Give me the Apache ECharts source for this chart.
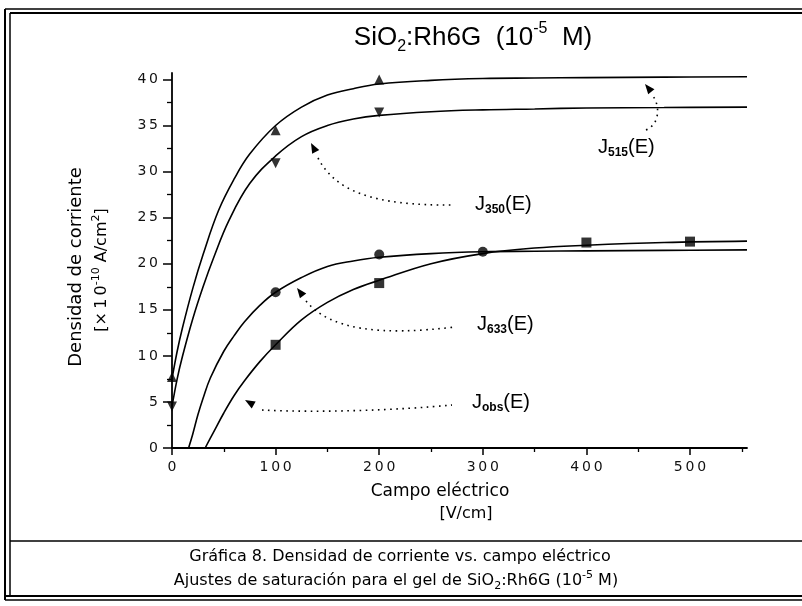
<!DOCTYPE html>
<html>
<head>
<meta charset="utf-8">
<script src="https://cdn.jsdelivr.net/npm/echarts@6/dist/echarts.min.js"></script>
<style>
  html, body { margin: 0; background: #fff; }
  #chart { width: 802px; height: 606px; }
</style>
</head>
<body>
<div id="chart"></div>
<script>
// ticks
var xTicks = [0, 100, 200, 300, 400, 500];
var xMinorTicks = [50, 150, 250, 350, 450, 550];
var yTicks = [0, 5, 10, 15, 20, 25, 30, 35, 40];
var yMinorTicks = [2.5, 7.5, 12.5, 17.5, 22.5, 27.5, 32.5, 37.5];

// puntos medidos [campo, densidad]
var j515Pts = [[0, 7.7], [100, 34.5], [200, 40.0]];
var j350Pts = [[0, 4.5], [100, 30.9], [200, 36.4]];
var j633Pts = [[100, 16.9], [200, 21.0], [300, 21.3]];
var jobsPts = [[100, 11.2], [200, 17.9], [400, 22.3], [500, 22.4]];

// curvas de ajuste
var j515Fit = [[0, 7.5], [5, 10.5], [10, 13.0], [20, 17.3], [30, 21.0], [45, 25.8], [60, 29.2],
  [75, 31.9], [100, 35.0], [125, 37.0], [150, 38.3], [175, 39.0], [200, 39.5], [250, 39.9],
  [300, 40.1], [350, 40.15], [400, 40.2], [475, 40.25], [555, 40.3]];
var j350Fit = [[0, 4.5], [5, 7.5], [10, 9.9], [20, 14.0], [30, 17.5], [40, 20.6], [55, 24.7],
  [75, 28.7], [100, 31.7], [125, 33.8], [150, 35.0], [175, 35.7], [200, 36.1], [250, 36.5],
  [300, 36.7], [350, 36.8], [400, 36.9], [475, 36.95], [555, 37.0]];
var j633Fit = [[16, 0], [20, 1.5], [25, 3.6], [30, 5.4], [37, 7.6], [50, 10.5], [60, 12.2],
  [70, 13.7], [85, 15.5], [100, 16.9], [125, 18.5], [150, 19.7], [175, 20.3], [200, 20.7],
  [250, 21.1], [300, 21.3], [350, 21.35], [400, 21.4], [475, 21.45], [555, 21.5]];
var jobsFit = [[32, 0], [40, 1.7], [50, 3.8], [60, 5.7], [70, 7.3], [85, 9.4], [100, 11.2],
  [125, 13.9], [150, 15.8], [175, 17.2], [200, 18.2], [250, 20.0], [300, 21.1], [350, 21.7],
  [400, 22.0], [475, 22.3], [555, 22.45]];

var FONT = 'DejaVu Sans';
var spaced = function (v) { return String(v).split('').join('\u2009'); };

function fitSeries(data) {
  return {
    type: 'line', data: data, smooth: 0.4, showSymbol: false, silent: true,
    lineStyle: { color: '#000', width: 1.6 }, z: 2
  };
}
function pointSeries(data, symbol, rotate) {
  return {
    type: 'scatter', data: data, symbol: symbol, symbolSize: 10, symbolRotate: rotate || 0,
    itemStyle: { color: '#000' }, z: 3
  };
}

function arrowHead(tip, from) {
  var dx = tip[0] - from[0], dy = tip[1] - from[1];
  var l = Math.sqrt(dx * dx + dy * dy);
  var ux = dx / l, uy = dy / l;
  var bx = tip[0] - ux * 10, by = tip[1] - uy * 10;
  return {
    type: 'polygon',
    shape: { points: [tip, [bx - uy * 4, by + ux * 4], [bx + uy * 4, by - ux * 4]] },
    style: { fill: '#000' }
  };
}
function dotted(shape) {
  return {
    type: 'bezierCurve', shape: shape,
    style: { stroke: '#000', lineWidth: 1.6, lineDash: [1.6, 4.5], fill: null }
  };
}
function hline(x1, x2, y, w) {
  return { type: 'line', shape: { x1: x1, y1: y, x2: x2, y2: y }, style: { stroke: '#000', lineWidth: w } };
}
function vline(x, y1, y2, w) {
  return { type: 'line', shape: { x1: x, y1: y1, x2: x, y2: y2 }, style: { stroke: '#000', lineWidth: w } };
}
function jLabel(x, y, sub) {
  return {
    type: 'text', x: x, y: y,
    style: {
      text: 'J{s|' + sub + '}(E)', fill: '#000', font: '20px "Liberation Sans"',
      verticalAlign: 'middle', lineHeight: 24,
      rich: { s: { fontSize: 12, fontFamily: 'Liberation Sans', fontWeight: 'bold', verticalAlign: 'bottom', lineHeight: 16 } }
    }
  };
}

var supRich = {
  sup: { fontSize: 11, fontFamily: FONT, verticalAlign: 'top', lineHeight: 8 },
  sub: { fontSize: 11, fontFamily: FONT, verticalAlign: 'bottom', lineHeight: 14 }
};

var chart = echarts.init(document.getElementById('chart'));
chart.setOption({
  backgroundColor: '#fff',
  animation: false,
  grid: { left: 172, right: 55, top: 73, bottom: 158 },
  xAxis: [{
    type: 'value', min: 0, max: 555,
    axisLine: { lineStyle: { color: '#000', width: 1.8 } },
    axisTick: { customValues: xTicks, length: 7, lineStyle: { color: '#000', width: 1.5 } },
    axisLabel: { customValues: xTicks, formatter: spaced, margin: 12, color: '#111', fontFamily: FONT, fontSize: 14 },
    splitLine: { show: false }
  }, {
    type: 'value', min: 0, max: 555, position: 'bottom',
    axisLine: { show: false },
    axisTick: { customValues: xMinorTicks, length: 4, lineStyle: { color: '#000', width: 1.3 } },
    axisLabel: { show: false }, splitLine: { show: false }
  }],
  yAxis: [{
    type: 'value', min: 0, max: 40.7,
    axisLine: { show: true, lineStyle: { color: '#000', width: 1.8 } },
    axisTick: { show: true, customValues: yTicks, length: 9, lineStyle: { color: '#000', width: 1.5 } },
    axisLabel: { customValues: yTicks, formatter: spaced, margin: 14, color: '#111', fontFamily: FONT, fontSize: 14 },
    splitLine: { show: false }
  }, {
    type: 'value', min: 0, max: 40.7, position: 'left',
    axisLine: { show: false },
    axisTick: { show: true, customValues: yMinorTicks, length: 5, lineStyle: { color: '#000', width: 1.3 } },
    axisLabel: { show: false }, splitLine: { show: false }
  }],
  series: [
    fitSeries(j515Fit), fitSeries(j350Fit), fitSeries(j633Fit), fitSeries(jobsFit),
    pointSeries(j515Pts, 'triangle'),
    pointSeries(j350Pts, 'triangle', 180),
    pointSeries(j633Pts, 'circle'),
    pointSeries(jobsPts, 'rect')
  ],
  graphic: [
    // marco
    hline(5, 802, 9, 1.5), hline(10, 802, 13, 2),
    vline(5, 9, 600, 2), vline(10, 13, 596, 1.5),
    hline(10, 802, 541, 1.5),
    hline(5, 802, 596, 2), hline(5, 802, 600, 1.5),
    // titulo
    {
      type: 'text', x: 473, y: 38,
      style: {
        text: 'SiO{b|2}:Rh6G  (10{p|-5}  M)', fill: '#000', font: '26px "Liberation Sans"',
        align: 'center', verticalAlign: 'middle', lineHeight: 34,
        rich: {
          b: { fontSize: 16, fontFamily: 'Liberation Sans', verticalAlign: 'bottom', lineHeight: 18 },
          p: { fontSize: 16, fontFamily: 'Liberation Sans', verticalAlign: 'top', lineHeight: 8 }
        }
      }
    },
    // titulos de ejes
    {
      type: 'text', x: 76, y: 267, rotation: Math.PI / 2,
      style: { text: 'Densidad de corriente', fill: '#000', font: '18px "DejaVu Sans"', align: 'center', verticalAlign: 'middle' }
    },
    {
      type: 'text', x: 102, y: 270, rotation: Math.PI / 2,
      style: {
        text: '[\u00d7\u20091\u20090{sup|-10} A/cm{sup|2}]', fill: '#000', font: '16px "DejaVu Sans"',
        align: 'center', verticalAlign: 'middle', lineHeight: 22, rich: supRich
      }
    },
    {
      type: 'text', x: 440, y: 492,
      style: { text: 'Campo eléctrico', fill: '#000', font: '17px "DejaVu Sans"', align: 'center', verticalAlign: 'middle' }
    },
    {
      type: 'text', x: 466, y: 514,
      style: { text: '[V/cm]', fill: '#000', font: '16px "DejaVu Sans"', align: 'center', verticalAlign: 'middle' }
    },
    // anotaciones
    jLabel(598, 147, '515'),
    dotted({ x1: 646, y1: 130, x2: 653, y2: 96, cpx1: 660, cpy1: 124, cpx2: 660, cpy2: 106 }),
    arrowHead([645, 84], [654, 95]),
    jLabel(475, 204, '350'),
    dotted({ x1: 318, y1: 158, x2: 455, y2: 205, cpx1: 335, cpy1: 190, cpx2: 370, cpy2: 206 }),
    arrowHead([311, 143], [319, 158]),
    jLabel(477, 324, '633'),
    dotted({ x1: 306, y1: 301, x2: 455, y2: 327, cpx1: 330, cpy1: 330, cpx2: 380, cpy2: 336 }),
    arrowHead([297, 288], [307, 301]),
    jLabel(472, 402, 'obs'),
    dotted({ x1: 262, y1: 410, x2: 452, y2: 405, cpx1: 320, cpy1: 413, cpx2: 400, cpy2: 410 }),
    arrowHead([245, 400], [259, 408]),
    // pie de figura
    {
      type: 'text', x: 400, y: 557,
      style: { text: 'Gráfica 8. Densidad de corriente vs. campo eléctrico', fill: '#000', font: '16px "DejaVu Sans"', align: 'center', verticalAlign: 'middle' }
    },
    {
      type: 'text', x: 396, y: 581,
      style: {
        text: 'Ajustes de saturación para el gel de SiO{sub|2}:Rh6G (10{sup|-5} M)', fill: '#000',
        font: '16px "DejaVu Sans"', align: 'center', verticalAlign: 'middle', lineHeight: 22, rich: supRich
      }
    }
  ]
});
</script>
</body>
</html>
